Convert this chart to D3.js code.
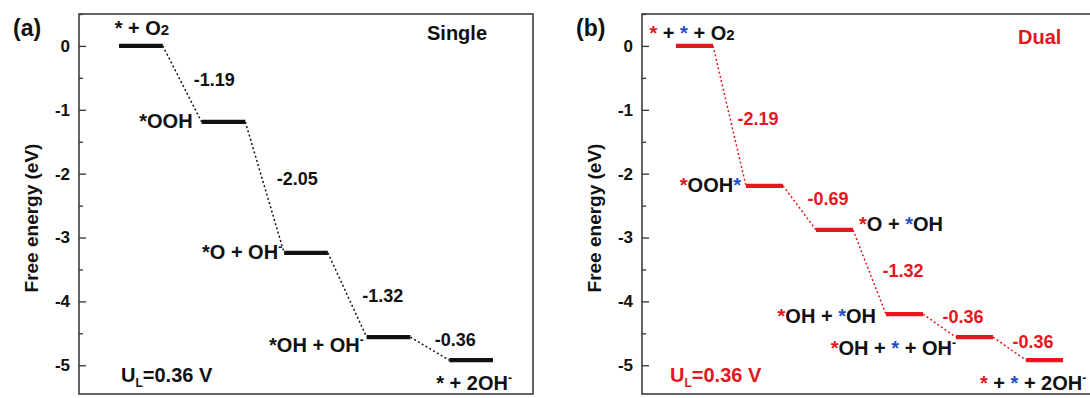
<!DOCTYPE html>
<html>
<head>
<meta charset="utf-8">
<script src="https://cdn.jsdelivr.net/npm/d3@7"></script>
<style>
  body { margin: 0; background: #fff; }
  svg text { font-family: "Liberation Sans", Arial, sans-serif; font-weight: bold; }
</style>
</head>
<body>
<svg id="chart" width="1090" height="398"></svg>
<script>
// free energy levels (eV) for each step
const singleEnergy = [0, -1.19, -3.24, -4.56, -4.92];
const dualEnergy = [0, -2.19, -2.88, -4.20, -4.56, -4.92];

// step changes written between levels
const singleDelta = ["-1.19", "-2.05", "-1.32", "-0.36"];
const dualDelta = ["-2.19", "-0.69", "-1.32", "-0.36", "-0.36"];

// species labels, as segments [text, kind]
const singleSpecies = [
  [["* + O"], ["2", "small"]],
  [["*OOH"]],
  [["*O + OH"], ["-", "sup"]],
  [["*OH + OH"], ["-", "sup"]],
  [["* + 2OH"], ["-", "sup"]]
];
const dualSpecies = [
  [["*", "red"], [" + "], ["*", "blue"], [" + O"], ["2", "small"]],
  [["*", "red"], ["OOH"], ["*", "blue"]],
  [["*", "red"], ["O + "], ["*", "blue"], ["OH"]],
  [["*", "red"], ["OH + "], ["*", "blue"], ["OH"]],
  [["*", "red"], ["OH + "], ["*", "blue"], [" + OH"], ["-", "sup"]],
  [["*", "red"], [" + "], ["*", "blue"], [" + 2OH"], ["-", "sup"]]
];

const yTicks = [0, -1, -2, -3, -4, -5];
const yMinor = [0.5, -0.5, -1.5, -2.5, -3.5, -4.5];

const RED = "#e5161d";
const BLUE = "#1f4fc8";

const svg = d3.select("#chart");

// writes a label built from segments into a text element
function richText(sel, segs, baseColor) {
  segs.forEach(s => {
    const kind = s[1] || "";
    const t = sel.append("tspan").text(s[0]);
    if (kind === "red") t.attr("fill", RED);
    else if (kind === "blue") t.attr("fill", BLUE);
    else t.attr("fill", baseColor);
    if (kind === "small") t.attr("font-size", 15);
    if (kind === "sup") t.attr("font-size", 12).attr("dy", -8);
  });
}

function drawPanel(opt) {
  const x = d3.scaleLinear().domain([-0.75, opt.energy.length - 0.25]).range([opt.left, opt.right]);
  const y = d3.scaleLinear().domain([-5.45, 0.5]).range([394, 14]);
  const hw = 0.265;
  const g = svg.append("g");

  // ticks inside the frame
  g.append("g")
    .attr("transform", "translate(" + opt.left + ",0)")
    .call(d3.axisLeft(y).tickValues(yMinor).tickFormat("").tickSizeInner(-4).tickSizeOuter(0))
    .call(a => a.select(".domain").remove())
    .call(a => a.selectAll("line").attr("stroke", "#333").attr("stroke-width", 1.3));
  g.append("g")
    .attr("transform", "translate(" + opt.left + ",0)")
    .call(d3.axisLeft(y).tickValues(yTicks).tickFormat(d => String(d)).tickSizeInner(-7).tickSizeOuter(0).tickPadding(9))
    .call(a => a.select(".domain").remove())
    .call(a => a.selectAll("line").attr("stroke", "#333").attr("stroke-width", 1.3))
    .call(a => a.selectAll("text").attr("font-size", 17).attr("fill", "#111")
      .attr("font-family", "'Liberation Sans', Arial, sans-serif").attr("font-weight", "bold"));

  g.append("rect")
    .attr("x", opt.left).attr("y", 14)
    .attr("width", opt.right - opt.left).attr("height", 380)
    .attr("fill", "none").attr("stroke", "#333").attr("stroke-width", 1.5);

  // dotted connectors
  const links = d3.pairs(opt.energy.map((e, i) => [i, e]));
  g.selectAll("line.link").data(links).enter().append("line")
    .attr("x1", d => x(d[0][0] + hw)).attr("y1", d => y(d[0][1]))
    .attr("x2", d => x(d[1][0] - hw)).attr("y2", d => y(d[1][1]))
    .attr("stroke", opt.color).attr("stroke-width", 1.5)
    .attr("stroke-dasharray", "2,2.4");

  // energy levels
  g.selectAll("line.level").data(opt.energy).enter().append("line")
    .attr("x1", (d, i) => x(i - hw)).attr("x2", (d, i) => x(i + hw))
    .attr("y1", d => y(d)).attr("y2", d => y(d))
    .attr("stroke", opt.color).attr("stroke-width", 4.2);

  // step values
  links.forEach((d, i) => {
    const mx = (x(d[0][0] + hw) + x(d[1][0] - hw)) / 2;
    const my = (y(d[0][1]) + y(d[1][1])) / 2;
    const o = opt.deltaPos[i];
    g.append("text").attr("x", mx + o[0]).attr("y", my + o[1])
      .attr("font-size", 18).attr("fill", opt.color).text(opt.delta[i]);
  });

  // species
  opt.species.forEach((segs, i) => {
    const p = opt.speciesPos[i];
    const ref = p[0] === "s" ? x(i - hw) : p[0] === "e" ? x(i + hw) : x(i);
    const t = g.append("text").attr("x", ref + p[1]).attr("y", y(opt.energy[i]) + p[2])
      .attr("font-size", 20).attr("text-anchor", p[3]);
    richText(t, segs, "#111");
  });

  // panel letter, title, limiting potential
  g.append("text").attr("x", opt.left - 66).attr("y", 36).attr("font-size", 23).attr("fill", "#111").text(opt.letter);
  g.append("text").attr("x", opt.tagX).attr("y", opt.tagY).attr("font-size", 20).attr("fill", opt.tagColor).text(opt.tag);
  const u = g.append("text").attr("x", opt.left + opt.uDx).attr("y", 382).attr("font-size", 20).attr("fill", opt.color);
  u.append("tspan").text("U");
  u.append("tspan").attr("font-size", 12).attr("dy", 5).text("L");
  u.append("tspan").attr("dy", -5).text("=0.36 V");

  g.append("text")
    .attr("transform", "translate(" + (opt.left - 41) + ",218) rotate(-90)")
    .attr("text-anchor", "middle").attr("font-size", 19).attr("fill", "#111")
    .text("Free energy (eV)");
}

drawPanel({
  left: 79, right: 533, color: "#111", letter: "(a)",
  tag: "Single", tagColor: "#111", tagX: 427, tagY: 40, uDx: 42,
  energy: singleEnergy, delta: singleDelta, species: singleSpecies,
  deltaPos: [[11.5, 2.5], [12, -2], [15, 6.5], [5, -3]],
  speciesPos: [["c", 1, -10.5, "middle"], ["s", -9, 6.5, "end"], ["s", -2, 6.5, "end"],
               ["s", -3, 15, "end"], ["c", 3, 30, "middle"]]
});

drawPanel({
  left: 642, right: 1097, color: RED, letter: "(b)",
  tag: "Dual", tagColor: RED, tagX: 1018, tagY: 44, uDx: 28,
  energy: dualEnergy, delta: dualDelta, species: dualSpecies,
  deltaPos: [[8, 9.5], [8, -2.5], [13, 4.5], [3, -2.5], [3, -1]],
  speciesPos: [["c", -2.5, -5.5, "middle"], ["s", -5, 6.5, "end"], ["e", 6, 1.5, "start"],
               ["s", -10, 9, "end"], ["s", 0, 18, "end"], ["s", -46, 30, "start"]]
});
</script>
</body>
</html>
